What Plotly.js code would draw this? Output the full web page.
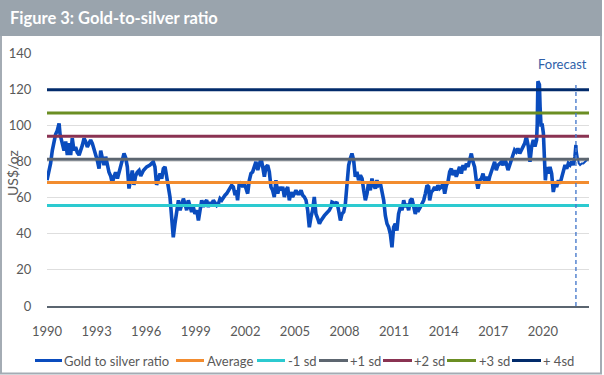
<!DOCTYPE html>
<html>
<head>
<meta charset="utf-8">
<script src="https://cdn.plot.ly/plotly-3.0.1.min.js"></script>
<style>html,body{margin:0;padding:0;background:#fff;}#chart{width:604px;height:375px;}</style>
</head>
<body>
<div id="chart"></div>
<script>
// ---- data ----
var years = [
1990.00,1990.12,1990.22,1990.32,1990.42,1990.52,1990.62,1990.73,1990.79,1990.93,
1991.03,1991.13,1991.23,1991.33,1991.43,1991.53,1991.63,1991.73,1991.83,1991.94,
1992.04,1992.14,1992.24,1992.34,1992.44,1992.54,1992.64,1992.74,1992.84,1992.94,
1993.04,1993.15,1993.25,1993.35,1993.45,1993.55,1993.65,1993.75,1993.85,1993.95,
1994.05,1994.15,1994.26,1994.36,1994.46,1994.56,1994.66,1994.76,1994.86,1994.96,
1995.06,1995.16,1995.26,1995.36,1995.46,1995.57,1995.67,1995.83,
1996.03,1996.23,1996.43,1996.53,1996.63,1996.74,1996.84,1996.94,
1997.04,1997.14,1997.24,1997.34,1997.44,1997.54,1997.64,1997.74,1997.84,1997.95,
1998.05,1998.15,1998.25,1998.35,1998.45,1998.55,1998.65,1998.75,1998.85,1998.95,
1999.06,1999.16,1999.26,1999.36,1999.46,1999.56,1999.66,1999.76,1999.86,1999.96,
2000.06,2000.17,2000.27,2000.37,2000.47,2000.57,2000.67,2000.77,2000.87,2000.97,
2001.07,2001.17,2001.27,2001.38,2001.45,2001.53,2001.64,2001.74,2001.84,2001.94,
2002.04,2002.14,2002.24,2002.34,2002.44,2002.54,2002.64,2002.75,2002.85,2002.95,
2003.05,2003.15,2003.25,2003.35,2003.45,2003.55,2003.65,2003.75,2003.85,2003.96,
2004.06,2004.16,2004.26,2004.36,2004.46,2004.56,2004.66,2004.76,2004.86,2004.96,
2005.06,2005.17,2005.27,2005.37,2005.47,2005.57,2005.67,2005.77,2005.87,2005.97,
2006.07,2006.17,2006.27,2006.38,2006.48,2006.58,2006.68,2006.78,2006.88,2006.98,
2007.08,2007.18,2007.24,2007.44,2007.54,2007.64,2007.75,2007.85,2007.95,
2008.05,2008.15,2008.25,2008.35,2008.45,2008.55,2008.65,2008.75,2008.85,2008.96,
2009.06,2009.16,2009.26,2009.36,2009.46,2009.56,2009.66,2009.76,2009.86,2009.96,
2010.06,2010.17,2010.27,2010.37,2010.47,2010.57,2010.67,2010.77,2010.87,2010.97,
2011.07,2011.17,2011.27,2011.38,2011.48,2011.58,2011.68,2011.78,2011.88,2011.98,
2012.08,2012.18,2012.28,2012.38,2012.48,2012.59,2012.69,2012.79,2012.89,2012.99,
2013.09,2013.15,2013.25,2013.35,2013.45,2013.55,2013.65,2013.75,2013.86,2013.96,
2014.06,2014.16,2014.26,2014.36,2014.46,2014.56,2014.66,2014.76,2014.86,2014.96,
2015.07,2015.17,2015.27,2015.37,2015.47,2015.57,2015.67,2015.77,2015.87,2015.97,
2016.07,2016.18,2016.28,2016.38,2016.48,2016.58,2016.68,2016.78,2016.88,2016.98,
2017.08,2017.18,2017.28,2017.39,2017.49,2017.59,2017.69,2017.79,2017.89,2017.99,
2018.09,2018.19,2018.29,2018.39,2018.49,2018.60,2018.70,2018.80,2018.90,2019.00,
2019.12,2019.22,2019.32,2019.42,2019.52,2019.62,2019.66,2019.70,2019.79,2019.83,
2019.89,2019.95,2020.03,2020.09,2020.15,2020.23,2020.33,2020.43,2020.53,2020.63,
2020.73,2020.83,2020.94,2021.04,2021.14,2021.24,2021.34,2021.44,2021.54,2021.64,
2021.74,2021.84,2021.94,2022.00
];
var ratio = [
69.6,74,79,86,91,95,97,101,95,90,
86,91,83.5,90,83.5,92.8,86,88,85,83.5,
86,89,92.8,91,88,90,91.9,90,87,84.4,
80.7,76,86,81.7,78,82.6,77,74,72,68,
71.5,74,70.5,74,77,80.7,84.4,82,77,65,
71.5,75,67,72,74,75,72,75,
77,78,79.8,77,67,69.6,73.3,70.5,
76,77,69.6,65.9,60.3,49.2,38,45.5,51,58.5,
53,56.6,59.4,56.6,53,58.5,54.8,52,54.8,51,
53,47.3,53,58.5,54.8,57.5,58.5,54.8,57.5,55.7,
58.5,56.6,55.7,56.6,59.4,58.5,60.3,61.3,62.2,64,
65,66.8,65.9,61.3,64,58.5,68.7,67.7,65.9,67.7,
65,62.2,69.6,73.3,74.2,77.9,79.8,75.2,78.8,81.6,
77,71.5,77,77.9,74.2,65.9,64,60.3,69.6,62.2,
65.9,64,65.9,60.3,64,65.9,58.5,63,60.3,62.2,
64,62.2,62.2,64,61.3,60.3,58.5,53,43.6,49.2,
53,60.3,51,48.3,45.5,47.3,49.2,50,51,52,
53,54.8,57.5,56.6,57.5,53,47.3,51,52,
56.6,65.9,77.9,81.6,84.4,80.7,71.5,74.2,69.6,72.4,
70.5,64,58.5,62.2,68.7,64,70.5,66.8,65,69.6,
66.8,67.7,64,58.5,50,45.5,43.6,39.9,32.5,43.6,
45.5,41.8,51,54.8,53,58.5,54.8,56.6,53,58.5,
59.4,54.8,51,53.8,53,54.8,56.6,58.5,62.2,66.8,
65.9,58.5,63,64,65.9,64,66.8,65,65.9,67.7,
62.2,66.8,68.7,74.2,76,72.4,75.2,71.5,74.2,77,
73.3,77.9,75.2,78.8,77,80.7,84.4,79.8,77,69.6,
65,69.6,70.5,73.3,68.7,71.5,67.7,71.5,74.2,77,
79.8,75.2,77.9,78.8,79.8,77.9,81.6,78.8,75.2,77.9,
80.7,84.4,86.3,85.3,87.2,84.4,86.3,89.1,90,93.7,
88.2,79.8,88.2,91.9,88.2,91.9,101,124.3,122.5,110.4,
99.3,101,95.6,82.6,69.6,77,73.3,77,73.3,63.1,
67.7,65.9,69.6,67.7,71.5,75.2,78,76,78.9,78,
79.8,78,82.6,89.1
];
var forecastYears = [2022.00,2022.08,2022.17,2022.25,2022.35,2022.45,2022.55,2022.65,2022.75];
var forecastRatio = [89.1,84.4,78.9,78,78.9,78.9,79.8,80.7,81.6];

var bandNames  = ['Average','-1 sd','+1 sd','+2 sd','+3 sd','+ 4sd'];
var bandValues = [68.4, 55.6, 81.2, 94.0, 106.8, 119.6];
var bandColors = ['#f28c2f','#2ccad0','#5d6670','#8a3352','#6b8e23','#022b6b'];

var seriesName = 'Gold to silver ratio';
var seriesColor = '#0a4cbe';

var xStart = 1990, xEnd = 2022.79;
var tickYears = [1990,1993,1996,1999,2002,2005,2008,2011,2014,2017,2020];
var forecastYear = 2022.0, forecastTop = 123;

// ---- geometry helpers (pixel -> paper) ----
var W = 604, H = 375, mL = 47, mR = 15, mT = 53, mB = 69;
var pw = W - mL - mR, ph = H - mT - mB;
function px(X){ return (X - mL) / pw; }
function py(Y){ return (H - mB - Y) / ph; }

var font = 'Lato, "Open Sans", sans-serif';
var txt = '#595959';

var traces = [];
traces.push({x: years, y: ratio, type: 'scatter', mode: 'lines', name: seriesName,
  line: {color: seriesColor, width: 3.6}, showlegend: false});
traces.push({x: forecastYears, y: forecastRatio, type: 'scatter', mode: 'lines', name: seriesName + ' (forecast)',
  line: {color: seriesColor, width: 2}, showlegend: false});
for (var i = 0; i < bandNames.length; i++) {
  traces.push({x: [xStart, xEnd], y: [bandValues[i], bandValues[i]], type: 'scatter', mode: 'lines',
    name: bandNames[i], line: {color: bandColors[i], width: 3}, showlegend: false});
}

// custom legend positions (pixels)
var legY = 360.5;
var legItems = [
  {name: seriesName, color: seriesColor, x0: 35, x1: 62, tx: 62},
  {name: bandNames[0], color: bandColors[0], x0: 176, x1: 204, tx: 204.5},
  {name: bandNames[1], color: bandColors[1], x0: 257, x1: 285, tx: 285.5},
  {name: bandNames[2], color: bandColors[2], x0: 319, x1: 348, tx: 348},
  {name: bandNames[3], color: bandColors[3], x0: 383, x1: 412, tx: 411.5},
  {name: bandNames[4], color: bandColors[4], x0: 447, x1: 476, tx: 476.5},
  {name: bandNames[5], color: bandColors[5], x0: 512, x1: 541, tx: 540.5}
];

var shapes = [
  // outer frame
  {type: 'rect', xref: 'paper', yref: 'paper', x0: px(1), x1: px(601), y0: py(373.5), y1: py(0),
   line: {color: '#a4acb4', width: 2}, fillcolor: 'rgba(0,0,0,0)', layer: 'below'},
  // title bar
  {type: 'rect', xref: 'paper', yref: 'paper', x0: px(0), x1: px(602), y0: py(36), y1: py(0),
   line: {width: 0}, fillcolor: '#9aa4ad', layer: 'below'},
  // forecast divider
  {type: 'line', xref: 'x', yref: 'y', x0: forecastYear, x1: forecastYear, y0: 0, y1: forecastTop,
   line: {color: '#4a7ccc', width: 1.4, dash: '4px,3px'}, layer: 'above'}
];
var annotations = [
  {text: 'Forecast', xref: 'paper', yref: 'paper', x: px(562), y: py(63.5), xanchor: 'center', yanchor: 'middle',
   showarrow: false, font: {family: font, size: 13, color: '#2f5fa9'}},
  {text: 'US$/oz', xref: 'paper', yref: 'paper', x: px(12), y: py(173), xanchor: 'center', yanchor: 'middle',
   textangle: -90, showarrow: false, font: {family: font, size: 14, color: txt}}
];
legItems.forEach(function(it){
  shapes.push({type: 'line', xref: 'paper', yref: 'paper', x0: px(it.x0), x1: px(it.x1), y0: py(legY), y1: py(legY),
    line: {color: it.color, width: 3}});
  annotations.push({text: it.name, xref: 'paper', yref: 'paper', x: px(it.tx), y: py(legY), xanchor: 'left', yanchor: 'middle',
    showarrow: false, font: {family: font, size: 13, color: txt}});
});

var layout = {
  width: W, height: H,
  margin: {l: mL, r: mR, t: mT, b: mB, pad: 0},
  paper_bgcolor: '#ffffff', plot_bgcolor: '#ffffff',
  title: {text: '<b>Figure 3: Gold-to-silver ratio</b>', x: 10 / W, xanchor: 'left', xref: 'container',
    y: 1 - 18 / H, yanchor: 'middle', yref: 'container', font: {family: font, size: 16.5, color: '#ffffff'}},
  showlegend: false,
  xaxis: {range: [xStart, xEnd], tickmode: 'array', tickvals: tickYears, ticktext: tickYears.map(String),
    showgrid: false, zeroline: false, showline: true, linecolor: '#5b6570', linewidth: 1.5,
    ticks: 'outside', ticklen: 13, tickcolor: 'rgba(0,0,0,0)',
    tickfont: {family: font, size: 13, color: txt}, fixedrange: true},
  yaxis: {range: [0, 140], dtick: 20, tick0: 0, showgrid: true, gridcolor: '#dedede', gridwidth: 1,
    zeroline: false, showline: false, ticks: 'outside', ticklen: 12, tickcolor: 'rgba(0,0,0,0)',
    tickfont: {family: font, size: 13, color: txt}, fixedrange: true},
  shapes: shapes, annotations: annotations
};

Plotly.newPlot('chart', traces, layout, {displayModeBar: false, staticPlot: true});
</script>
</body>
</html>
